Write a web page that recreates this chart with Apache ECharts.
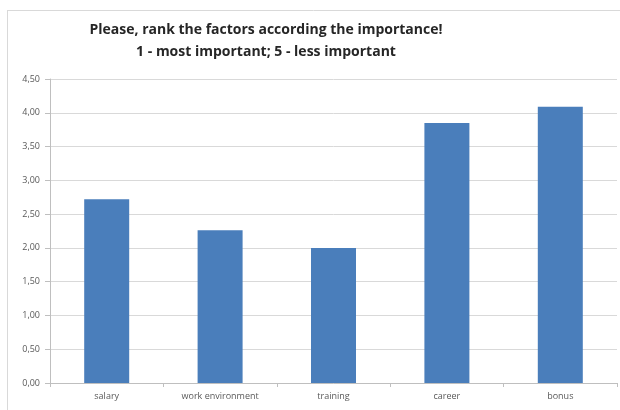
<!DOCTYPE html>
<html>
<head>
<meta charset="utf-8">
<script src="https://cdn.jsdelivr.net/npm/echarts@6/dist/echarts.min.js"></script>
<style>
  html, body { margin: 0; padding: 0; background: #fff; }
  #chart { width: 620px; height: 410px; }
</style>
</head>
<body>
<div id="chart"></div>
<script>
  // survey answers, average rank per factor
  const categories = ['salary', 'work environment', 'training', 'career', 'bonus'];
  const avgRank = [2.72, 2.26, 2.0, 3.85, 4.09];
  const titleLines = ['Please, rank the factors according the importance!', '1 - most important; 5 - less important'];

  const chart = echarts.init(document.getElementById('chart'));

  const option = {
    animation: false,
    title: {
      text: titleLines.join('\n'),
      left: 261,
      textAlign: 'center',
      top: 14,
      textStyle: {
        fontFamily: 'Open Sans',
        fontSize: 14,
        fontWeight: 'bold',
        color: '#262626',
        lineHeight: 22
      }
    },
    graphic: [
      { type: 'line', shape: { x1: 7, y1: 10.5, x2: 620, y2: 10.5 }, style: { stroke: '#d9d9d9', lineWidth: 1 } },
      { type: 'line', shape: { x1: 7.5, y1: 10, x2: 7.5, y2: 410 }, style: { stroke: '#d9d9d9', lineWidth: 1 } }
    ],
    grid: { left: 50, right: 3, top: 79, bottom: 27 },
    xAxis: {
      type: 'category',
      data: categories,
      axisLine: { lineStyle: { color: '#bfbfbf' } },
      axisTick: { show: true, length: 4, lineStyle: { color: '#bfbfbf' } },
      axisLabel: { color: '#595959', fontFamily: 'Open Sans', fontSize: 9, margin: 9 }
    },
    yAxis: {
      type: 'value',
      min: 0,
      max: 4.5,
      interval: 0.5,
      axisLine: { show: true, lineStyle: { color: '#bfbfbf' } },
      axisTick: { show: true, length: 5, lineStyle: { color: '#bfbfbf' } },
      splitLine: { lineStyle: { color: '#d9d9d9' } },
      axisLabel: {
        color: '#595959',
        fontFamily: 'Open Sans',
        fontSize: 9,
        margin: 10,
        formatter: function (v) { return v.toFixed(2).replace('.', ','); }
      }
    },
    series: [
      {
        type: 'bar',
        data: avgRank,
        barWidth: 45,
        itemStyle: { color: '#4a7ebb' }
      }
    ]
  };

  chart.setOption(option);
</script>
</body>
</html>
